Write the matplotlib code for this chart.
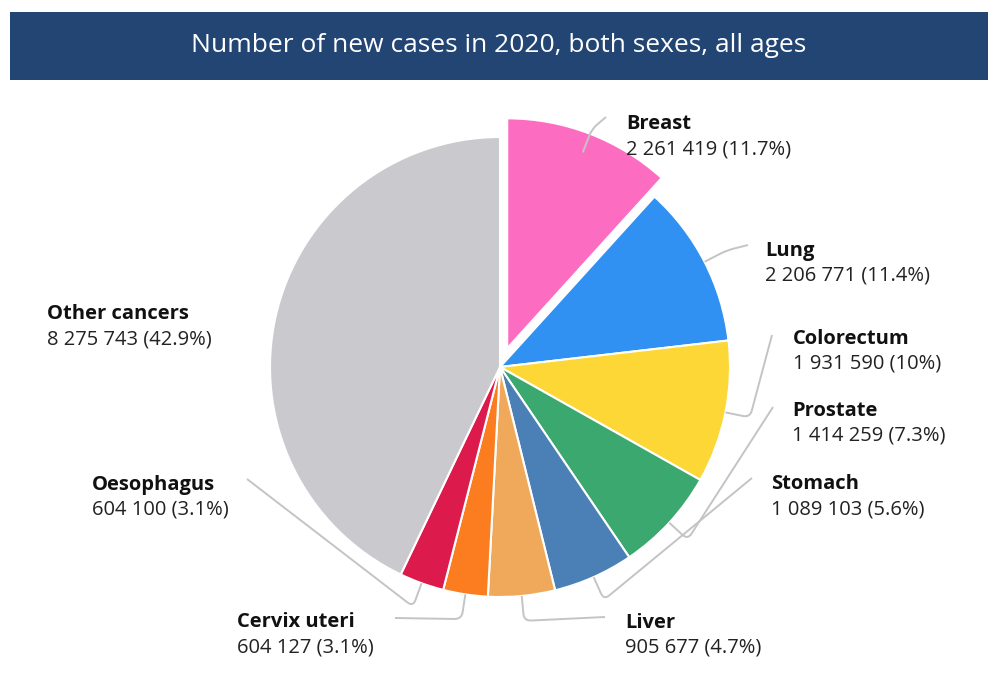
import numpy as np
import matplotlib
matplotlib.use("Agg")
import matplotlib.pyplot as plt
from matplotlib.path import Path
from matplotlib.patches import PathPatch, Rectangle

plt.rcParams['font.family'] = ['Open Sans', 'DejaVu Sans']

# data
cancers = ['Breast', 'Lung', 'Colorectum', 'Prostate', 'Stomach', 'Liver',
           'Cervix uteri', 'Oesophagus', 'Other cancers']
cases = [2261419, 2206771, 1931590, 1414259, 1089103, 905677,
         604127, 604100, 8275743]
colors = ['#fc6dc2', '#3091f2', '#fdd735', '#3ba86f', '#4a80b5', '#f0a95b',
          '#fb7d20', '#dc1a4b', '#cac9ce']

title = 'Number of new cases in 2020, both sexes, all ages'

# label layout (pixel coords from top: text left x, name line y, leader end point)
label_x = [626, 765, 793, 792, 771, 625, 237, 92, 47]
label_y = [124, 251, 339, 411, 484, 623, 622, 485, 314]
line_end = [(606, 117), (748, 245), (772, 335), (773, 407), (752, 478),
            (605, 617), (395, 618), (247, 479), None]

W, H = 1000, 689
cx, cy, R = 500, 367, 230


def fy(y):
    # pixel row -> data y
    return H - y


fig = plt.figure(figsize=(10, 6.89), dpi=100)
ax = fig.add_axes([0, 0, 1, 1])

# offset in data units (pixels) for the highlighted slice
explode = [20] + [0] * (len(cases) - 1)
ax.pie(cases, colors=colors, startangle=90, counterclock=False,
       radius=R, center=(cx, fy(cy)), explode=explode,
       wedgeprops=dict(edgecolor='white', linewidth=1.5))
ax.set_xlim(0, W)
ax.set_ylim(0, H)
ax.set_aspect('equal')
ax.axis('off')

# title banner
ax.add_patch(Rectangle((10, fy(80)), 978, 68, facecolor='#234573', edgecolor='none'))
ax.text(499, fy(46), title, color='white', fontsize=19, ha='center', va='center')

total = sum(cases)
pct = [round(v / total * 100, 1) for v in cases]

start = 90.0
for i, name in enumerate(cancers):
    span = cases[i] / total * 360
    mid = np.deg2rad(start - span / 2)
    start -= span
    num = f"{cases[i]:,}".replace(',', ' ') + f" ({pct[i]:g}%)"
    ax.text(label_x[i], fy(label_y[i]), name, fontsize=14.5, fontweight='bold',
            color='#111111', va='center', ha='left')
    ax.text(label_x[i], fy(label_y[i] + 25), num, fontsize=14.5,
            color='#222222', va='center', ha='left')
    if line_end[i] is None:
        continue
    p0 = np.array([cx + R * np.cos(mid), fy(cy) + R * np.sin(mid)])
    p1 = np.array([cx + (R + 25) * np.cos(mid), fy(cy) + (R + 25) * np.sin(mid)])
    p2 = np.array([line_end[i][0], fy(line_end[i][1])], dtype=float)
    a = p1 + (p0 - p1) / np.linalg.norm(p0 - p1) * 7
    b = p1 + (p2 - p1) / np.linalg.norm(p2 - p1) * 7
    path = Path([p0, a, p1, b, p2],
                [Path.MOVETO, Path.LINETO, Path.CURVE3, Path.CURVE3, Path.LINETO])
    ax.add_patch(PathPatch(path, facecolor='none', edgecolor='#c4c4c4', lw=1.4,
                           zorder=3))

fig.savefig('out.png', dpi=100, facecolor='white')
